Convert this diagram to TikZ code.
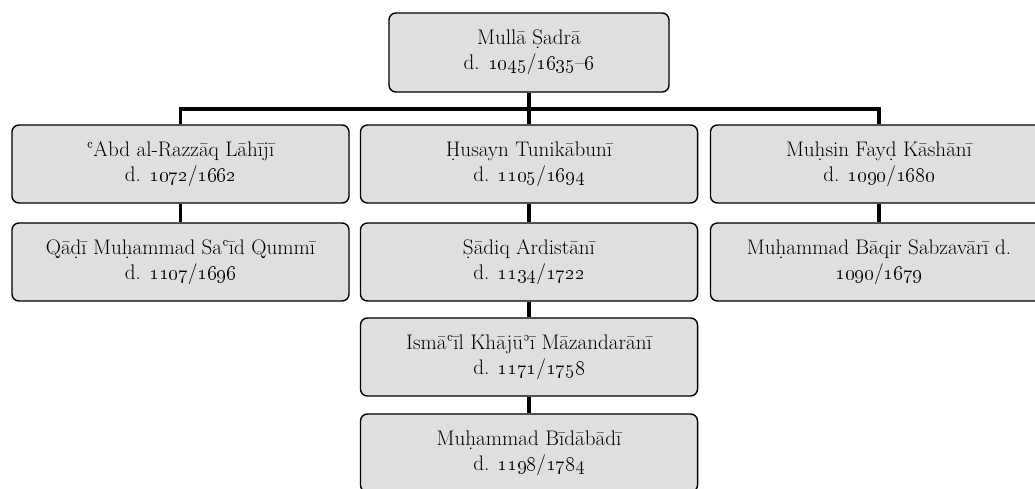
\documentclass[tikz,border=0pt]{standalone}
\usepackage{tikz}
\usetikzlibrary{calc}

\tikzset{
  boite/.style={draw, line width=1pt, rounded corners=5pt, fill=gray!25,
    minimum width=8.425cm, minimum height=1.95cm, align=center, inner sep=2pt,
    font=\fontsize{15}{17.5}\selectfont},
  lien/.style={line width=2.2pt},
}
\newcommand{\an}[1]{\oldstylenums{#1}}

\begin{document}
\begin{tikzpicture}[x=0.025cm,y=-0.025cm]
                            \useasboundingbox (0,0) rectangle (1035,488);
                            \clip (0,0) rectangle (1035,488);

                            % Le maître
                            \node[boite, minimum width=7cm, minimum height=1.975cm] (sadra) at (529,52.5) {Mullā Ṣadrā\\d. \an{1045}/\an{1635}--\an{6}};

                            % Première génération
                            \node[boite] (lahiji) at (180.5,164) {ʿAbd al-Razzāq Lāhījī\\d. \an{1072}/\an{1662}};
                            \node[boite] (tunikabuni) at (529,164) {Ḥusayn Tunikābunī\\d. \an{1105}/\an{1694}};
                            \node[boite] (kashani) at (879,164) {Muḥsin Fayḍ Kāshānī\\d. \an{1090}/\an{1680}};

                            % Deuxième génération
                            \node[boite] (qummi) at (180.5,262) {Qāḍī Muḥammad Saʿīd Qummī\\d. \an{1107}/\an{1696}};
                            \node[boite] (ardistani) at (529,262) {Ṣādiq Ardistānī\\d. \an{1134}/\an{1722}};
                            \node[boite] (sabzavari) at (879,262) {Muḥammad Bāqir Sabzavārī d.\\\an{1090}/\an{1679}};

                            % Suite de la lignée
                            \node[boite] (khajui) at (529,357) {Ismāʿīl Khājūʾī Māzandarānī\\d. \an{1171}/\an{1758}};
                            \node[boite] (bidabadi) at (529,453) {Muḥammad Bīdābādī\\d. \an{1198}/\an{1784}};

                            % Barre horizontale
                            \coordinate (barre) at (529,109);

                            % Liens
                            \draw[lien] (sadra.south) -- (tunikabuni.north);
                            \draw[lien] (lahiji.north) |- (barre) -| (kashani.north);
                            \draw[lien] (lahiji) -- (qummi);
                            \draw[lien] (tunikabuni) -- (ardistani);
                            \draw[lien] (kashani) -- (sabzavari);
                            \draw[lien] (ardistani) -- (khajui);
                            \draw[lien] (khajui) -- (bidabadi);

                        \end{tikzpicture}
\end{document}
